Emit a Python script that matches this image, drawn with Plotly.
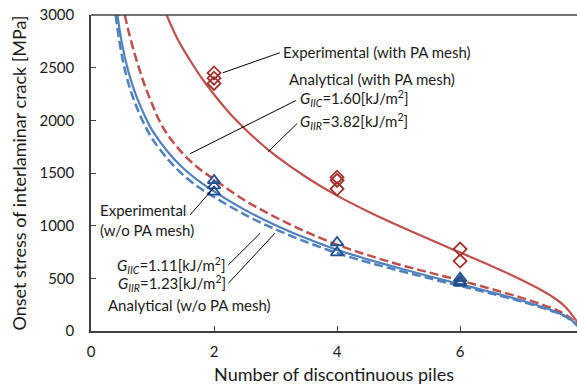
import plotly.graph_objects as go

# ---------------- data ----------------
# Experimental (with PA mesh) - diamonds
exp_pa_x = [2, 2, 2, 4, 4, 4, 6, 6]
exp_pa_y = [2450, 2400, 2350, 1460, 1430, 1350, 778, 664]

# Experimental (w/o PA mesh) - triangles
exp_nopa_x = [2, 2, 2, 4, 4, 6, 6, 6]
exp_nopa_y = [1430, 1380, 1320, 840, 745, 500, 470, 455]

# Analytical (with PA mesh), G_IIR = 3.82 (solid red)
ana_pa_r_x = [1.23, 1.4, 1.6, 1.8, 2.0, 2.25, 2.5, 2.75, 3.0, 3.5, 4.0, 4.5, 5.0, 5.5, 6.0, 6.5, 7.0, 7.25, 7.5, 7.7, 7.85, 8.0]
ana_pa_r_y = [3000, 2780, 2580, 2400, 2245, 2070, 1920, 1785, 1665, 1460, 1285, 1135, 1000, 870, 745, 620, 485, 410, 325, 235, 130, 0]

# Analytical (with PA mesh), G_IIC = 1.60 (dashed red)
ana_pa_c_x = [0.55, 0.6, 0.7, 0.8, 0.9, 1.0, 1.1, 1.25, 1.5, 1.75, 2.0, 2.5, 3.0, 3.5, 4.0, 4.5, 5.0, 5.5, 6.0, 6.5, 7.0, 7.5, 7.7, 7.85, 8.0]
ana_pa_c_y = [3000, 2870, 2650, 2460, 2290, 2145, 2010, 1860, 1680, 1545, 1440, 1240, 1080, 940, 820, 720, 632, 555, 480, 400, 315, 215, 160, 95, 0]

# Analytical (w/o PA mesh), G_IIR = 1.23 (solid blue)
ana_np_r_x = [0.43, 0.5, 0.6, 0.7, 0.8, 0.9, 1.0, 1.25, 1.5, 1.75, 2.0, 2.5, 3.0, 3.5, 4.0, 4.5, 5.0, 5.5, 6.0, 6.5, 7.0, 7.5, 7.7, 7.85, 8.0]
ana_np_r_y = [3000, 2740, 2480, 2290, 2140, 2010, 1900, 1700, 1545, 1425, 1325, 1150, 1005, 880, 770, 680, 598, 520, 445, 370, 290, 195, 145, 85, 0]

# Analytical (w/o PA mesh), G_IIC = 1.11 (dashed blue)
ana_np_c_x = [0.40, 0.5, 0.6, 0.7, 0.8, 0.9, 1.0, 1.25, 1.5, 1.75, 2.0, 2.5, 3.0, 3.5, 4.0, 4.5, 5.0, 5.5, 6.0, 6.5, 7.0, 7.5, 7.7, 7.85, 8.0]
ana_np_c_y = [3000, 2620, 2370, 2190, 2045, 1925, 1820, 1630, 1480, 1365, 1272, 1105, 965, 845, 740, 653, 574, 500, 428, 356, 280, 188, 140, 80, 0]

x_ticks = [0, 2, 4, 6]
y_ticks = [0, 500, 1000, 1500, 2000, 2500, 3000]

RED = "#C0504D"
BLUE = "#4F81BD"
DRED = "#A0302D"
DBLUE = "#1F4E8C"
FONT = "Lato"
AX = "#404040"

fig = go.Figure()
fig.add_trace(go.Scatter(x=ana_pa_r_x, y=ana_pa_r_y, mode="lines", line=dict(color=RED, width=2.2, shape="spline")))
fig.add_trace(go.Scatter(x=ana_pa_c_x, y=ana_pa_c_y, mode="lines", line=dict(color=RED, width=2.5, dash="9px,4px", shape="spline")))
fig.add_trace(go.Scatter(x=ana_np_r_x, y=ana_np_r_y, mode="lines", line=dict(color=BLUE, width=2.2, shape="spline")))
fig.add_trace(go.Scatter(x=ana_np_c_x, y=ana_np_c_y, mode="lines", line=dict(color=BLUE, width=2.5, dash="9px,4px", shape="spline")))
fig.add_trace(go.Scatter(x=exp_pa_x, y=exp_pa_y, mode="markers",
                         marker=dict(symbol="diamond-open", size=10, color=DRED, line=dict(width=1.8, color=DRED))))
fig.add_trace(go.Scatter(x=exp_nopa_x, y=exp_nopa_y, mode="markers",
                         marker=dict(symbol="triangle-up-open", size=11, color=DBLUE, line=dict(width=1.8, color=DBLUE))))

# leader lines (data coordinates)
leaders = [
    (2.14, 2451, 3.07, 2642),
    (1.61, 1683, 3.33, 2188),
    (2.88, 1702, 3.35, 1969),
    (1.61, 1102, 1.99, 1356),
    (2.23, 626, 2.75, 928),
    (2.23, 451, 2.99, 928),
]
for x0, y0, x1, y1 in leaders:
    fig.add_shape(type="line", x0=x0, y0=y0, x1=x1, y1=y1, line=dict(color="black", width=1))

tf = dict(family=FONT, size=15, color="#1a1a1a")
ann = [
    (3.09, 2645, "Experimental (with PA mesh)", "left"),
    (3.19, 2388, "Analytical (with PA mesh)", "left"),
    (3.37, 2205, "<i>G<sub>IIC</sub></i>=1.60[kJ/m<sup>2</sup>]", "left"),
    (3.37, 1986, "<i>G<sub>IIR</sub></i>=3.82[kJ/m<sup>2</sup>]", "left"),
    (0.11, 1052, "Experimental<br>(w/o PA mesh)", "left"),
    (2.23, 625, "<i>G<sub>IIC</sub></i>=1.11[kJ/m<sup>2</sup>]", "right"),
    (2.23, 451, "<i>G<sub>IIR</sub></i>=1.23[kJ/m<sup>2</sup>]", "right"),
    (0.25, 244, "Analytical (w/o PA mesh)", "left"),
]
for x, y, t, xa in ann:
    fig.add_annotation(x=x, y=y, text=t, showarrow=False, xanchor=xa, yanchor="middle",
                       align="left", font=tf)

fig.update_layout(
    width=577, height=389,
    margin=dict(l=91, r=0, t=15, b=58),
    plot_bgcolor="white", paper_bgcolor="white",
    showlegend=False,
    font=dict(family=FONT, size=15, color="#1a1a1a"),
)
fig.update_xaxes(range=[0, 7.9], tickvals=x_ticks, ticks="inside", ticklen=5, tickcolor=AX,
                 showline=True, linecolor=AX, linewidth=1.5, mirror=False, showgrid=False, zeroline=False,
                 ticklabelstandoff=6,
                 title=dict(text="Number of discontinuous piles", font=dict(family=FONT, size=18), standoff=10),
                 tickfont=dict(family=FONT, size=15))
fig.update_yaxes(range=[0, 3000], tickvals=y_ticks, ticks="inside", ticklen=5, tickcolor=AX,
                 showline=True, linecolor=AX, linewidth=1.5, mirror=False, showgrid=False, zeroline=False,
                 ticklabelstandoff=12,
                 title=dict(text="Onset stress of interlaminar crack [MPa]", font=dict(family=FONT, size=18), standoff=8),
                 tickfont=dict(family=FONT, size=15))
fig.add_shape(type="line", xref="paper", yref="paper", x0=0, x1=1, y0=1, y1=1, line=dict(color=AX, width=1.5))

fig.write_html("out.html")
